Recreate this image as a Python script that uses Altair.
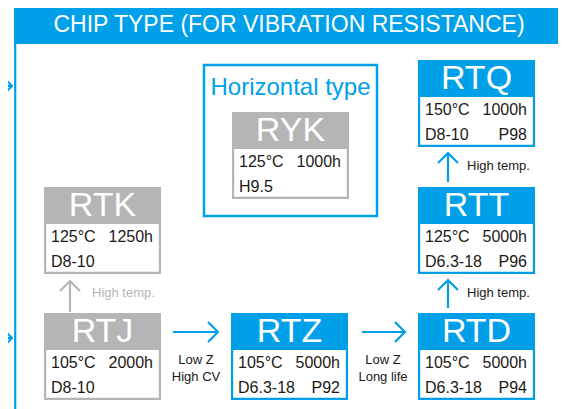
import altair as alt
import pandas as pd

BLUE = "#00a0e9"
GRAY = "#b5b5b5"
INK = "#231815"
FONT = "Liberation Sans"

# ---------------- content ----------------
title_text = "CHIP TYPE (FOR VIBRATION RESISTANCE)"
group_title = "Horizontal type"
series = ["RTK", "RTJ", "RTZ", "RTD", "RTT", "RTQ", "RYK"]
temps = ["125°C", "105°C", "105°C", "105°C", "125°C", "150°C", "125°C"]
lifetimes = ["1250h", "2000h", "5000h", "5000h", "5000h", "1000h", "1000h"]
sizes = ["D8-10", "D8-10", "D6.3-18", "D6.3-18", "D6.3-18", "D8-10", "H9.5"]
pages = ["", "", "P92", "P94", "P96", "P98", ""]
featured = [False, False, True, True, True, True, False]

links_from = ["RTJ", "RTJ", "RTZ", "RTD", "RTT"]
links_to = ["RTK", "RTZ", "RTD", "RTT", "RTQ"]
link_labels = [["High temp."], ["Low Z", "High CV"], ["Low Z", "Long life"],
               ["High temp."], ["High temp."]]
link_muted = [True, False, False, False, False]

# ---------------- layout (page pixels) ----------------
box_pos = {"RTK": (44, 187), "RTJ": (44, 313), "RTZ": (231, 313),
           "RTD": (418, 313), "RTT": (418, 187), "RTQ": (418, 60),
           "RYK": (232, 112)}
BOX_W, BOX_H, HEAD_H, INSET = 117, 87, 37, 2.2
link_geom = [((70, 312), (70, 281)), ((173, 332), (218, 332)),
             ((362, 332), (405, 332)), ((448, 308), (448, 280)),
             ((448, 182), (448, 153))]
link_label_pos = [("left", 92, [293]), ("center", 196, [360, 377]),
                  ("center", 383, [360, 377]), ("left", 467, [293]),
                  ("left", 467, [166])]
entry_geom = [((0, 86), (12, 86)), ((0, 338), (12, 338))]
HEAD = 10

W, H = 550, 401
xs = alt.Scale(domain=[8, 8 + W], nice=False, zero=False)
ys = alt.Scale(domain=[8, 8 + H], nice=False, zero=False, reverse=True)


def X(f="x"):
    return alt.X(f"{f}:Q", scale=xs, axis=None)


def Y(f="y"):
    return alt.Y(f"{f}:Q", scale=ys, axis=None)


# boxes
rows = []
for i, s in enumerate(series):
    bx, by = box_pos[s]
    rows.append(dict(name=s, x=bx, x2=bx + BOX_W, y=by, y2=by + BOX_H,
                     ix=bx + INSET, ix2=bx + BOX_W - INSET,
                     iy=by + HEAD_H, iy2=by + BOX_H - INSET,
                     cx=bx + BOX_W / 2, hy=by + 19,
                     lx=bx + 7, rx=bx + BOX_W - 8,
                     l1=by + 50, l2=by + 75,
                     temp=temps[i], life=lifetimes[i], size=sizes[i], page=pages[i],
                     fill=BLUE if featured[i] else GRAY))
boxes = pd.DataFrame(rows)

outer = alt.Chart(boxes).mark_rect(clip=False).encode(
    x=X(), x2="x2", y=Y(), y2="y2", fill=alt.Fill("fill:N", scale=None))
inner = alt.Chart(boxes).mark_rect(fill="white", clip=False).encode(
    x=X("ix"), x2="ix2", y=Y("iy"), y2="iy2")
heads = alt.Chart(boxes).mark_text(font=FONT, fontSize=34, color="white",
                                   align="center", baseline="middle").encode(
    x=X("cx"), y=Y("hy"), text="name:N")


def body(field, xf, yf, al):
    return alt.Chart(boxes).mark_text(font=FONT, fontSize=16, color=INK, align=al,
                                      baseline="middle").encode(
        x=X(xf), y=Y(yf), text=f"{field}:N")


tl1 = body("temp", "lx", "l1", "left")
tl2 = body("size", "lx", "l2", "left")
tr1 = body("life", "rx", "l1", "right")
tr2 = body("page", "rx", "l2", "right")

# arrows
pts = []
seg = [0]


def add_arrow(p0, p1, color):
    (x0, y0), (x1, y1) = p0, p1
    dx, dy = x1 - x0, y1 - y0
    n = (dx * dx + dy * dy) ** 0.5
    ux, uy = dx / n, dy / n
    px, py = -uy, ux
    s = seg[0]
    pts.append(dict(seg=s, o=0, x=x0, y=y0, c=color))
    pts.append(dict(seg=s, o=1, x=x1, y=y1, c=color))
    pts.append(dict(seg=s + 1, o=0, x=x1 - HEAD * ux + HEAD * px, y=y1 - HEAD * uy + HEAD * py, c=color))
    pts.append(dict(seg=s + 1, o=1, x=x1, y=y1, c=color))
    pts.append(dict(seg=s + 1, o=2, x=x1 - HEAD * ux - HEAD * px, y=y1 - HEAD * uy - HEAD * py, c=color))
    seg[0] += 2


for k, (p0, p1) in enumerate(link_geom):
    add_arrow(p0, p1, GRAY if link_muted[k] else BLUE)
for (p0, p1) in entry_geom:
    add_arrow(p0, p1, BLUE)
arr_df = pd.DataFrame(pts)
arrows = alt.Chart(arr_df).mark_line(strokeWidth=2.2, strokeJoin="miter", clip=False).encode(
    x=X(), y=Y(), detail="seg:N", order="o:Q", color=alt.Color("c:N", scale=None))

# link labels
lab_rows = []
for k, (al, lx, lys) in enumerate(link_label_pos):
    for t, ly in zip(link_labels[k], lys):
        lab_rows.append(dict(t=t, x=lx, y=ly, al=al, c=GRAY if link_muted[k] else INK))
labs = pd.DataFrame(lab_rows)
lab_left = alt.Chart(labs[labs.al == "left"]).mark_text(
    font=FONT, fontSize=13, align="left", baseline="middle").encode(
    x=X(), y=Y(), text="t:N", color=alt.Color("c:N", scale=None))
lab_center = alt.Chart(labs[labs.al == "center"]).mark_text(
    font=FONT, fontSize=13, align="center", baseline="middle").encode(
    x=X(), y=Y(), text="t:N", color=alt.Color("c:N", scale=None))

# frame
frame = pd.DataFrame([dict(x=14, x2=564, y=6, y2=44)])
band = alt.Chart(frame).mark_rect(fill=BLUE, clip=False).encode(x=X(), x2="x2", y=Y(), y2="y2")
sides = pd.DataFrame([dict(x=15.2, y=44, y2=409), dict(x=563, y=44, y2=409)])
side_rules = alt.Chart(sides).mark_rule(color=BLUE, strokeWidth=2.2, clip=False).encode(
    x=X(), y=Y(), y2="y2")
title = alt.Chart(pd.DataFrame([dict(t=title_text, x=289, y=25)])).mark_text(
    font=FONT, fontSize=23, color="white", align="center", baseline="middle"
).encode(x=X(), y=Y(), text="t:N")

grp = pd.DataFrame([dict(x=204, x2=377, y=65, y2=216, t=group_title, tx=290.5, ty=88)])
grp_box = alt.Chart(grp).mark_rect(filled=False, stroke=BLUE, strokeWidth=2.5).encode(
    x=X(), x2="x2", y=Y(), y2="y2")
grp_title = alt.Chart(grp).mark_text(font=FONT, fontSize=24, color=BLUE, align="center",
                                     baseline="middle").encode(
    x=X("tx"), y=Y("ty"), text="t:N")

chart = alt.layer(band, side_rules, title, grp_box, grp_title, outer, inner, heads,
                  tl1, tl2, tr1, tr2, arrows, lab_left, lab_center).properties(
    width=W, height=H, autosize=alt.AutoSizeParams(type="none"),
    padding=0, background="white"
).configure_view(stroke=None)

chart.save("out.html", embed_options={"renderer": "svg", "actions": False})
